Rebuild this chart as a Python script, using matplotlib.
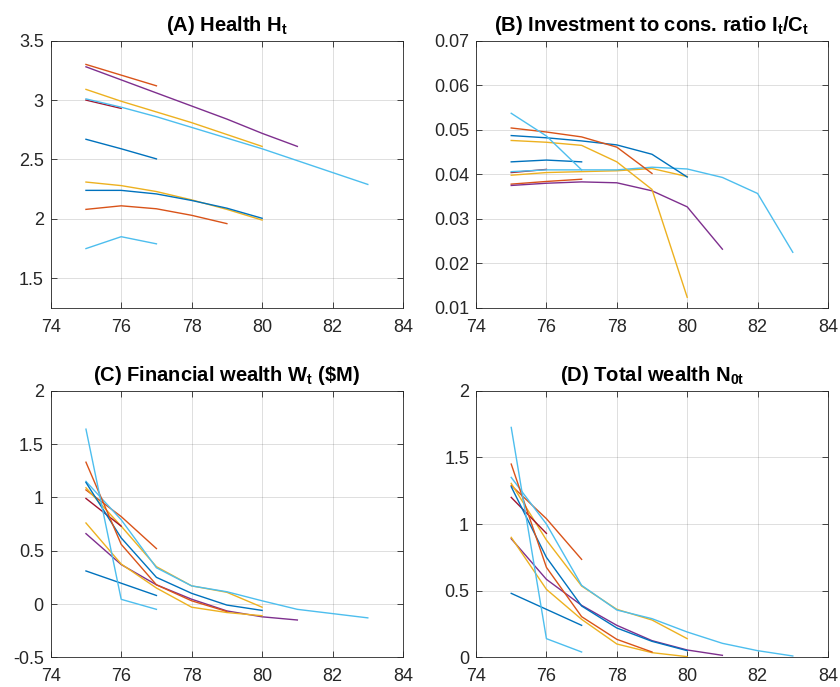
import numpy as np
import matplotlib
matplotlib.use("Agg")
import matplotlib.pyplot as plt
from matplotlib.ticker import FormatStrFormatter

plt.rcParams['font.family'] = ['Liberation Sans', 'DejaVu Sans']
plt.rcParams['mathtext.fontset'] = 'custom'
plt.rcParams['mathtext.rm'] = 'Liberation Sans'
plt.rcParams['mathtext.bf'] = 'Liberation Sans:bold'

# MATLAB colours for each simulated path
colores = ['#D95319', '#7E2F8E', '#EDB120', '#A2142F', '#4DBEEE',
           '#0072BD', '#EDB120', '#0072BD', '#D95319', '#4DBEEE']
# last age of each path (all start at 75)
edad_final = [77, 81, 80, 76, 83, 77, 80, 80, 79, 77]

salud = [
    [3.30, 3.21, 3.12],
    [3.28, 3.17, 3.06, 2.95, 2.84, 2.72, 2.61],
    [3.09, 2.99, 2.90, 2.81, 2.71, 2.61],
    [3.00, 2.93],
    [3.01, 2.94, 2.86, 2.77, 2.68, 2.59, 2.49, 2.39, 2.29],
    [2.67, 2.59, 2.505],
    [2.31, 2.28, 2.23, 2.16, 2.08, 1.99],
    [2.24, 2.24, 2.21, 2.155, 2.09, 2.005],
    [2.08, 2.11, 2.085, 2.03, 1.96],
    [1.75, 1.85, 1.79],
]

inversion = [
    [0.0378, 0.0384, 0.0389],
    [0.0375, 0.0380, 0.0383, 0.0381, 0.0363, 0.0327, 0.0232],
    [0.0398, 0.0404, 0.0406, 0.0408, 0.0413, 0.0395],
    [0.0404, 0.0411],
    [0.0406, 0.0410, 0.0410, 0.0410, 0.0416, 0.0412, 0.0393, 0.0357, 0.0225],
    [0.0428, 0.0432, 0.0428],
    [0.0476, 0.0472, 0.0465, 0.0428, 0.0366, 0.0124],
    [0.0487, 0.0482, 0.0475, 0.0466, 0.0445, 0.0394],
    [0.0504, 0.0495, 0.0484, 0.0461, 0.0402],
    [0.0537, 0.0486, 0.0410],
]

riqueza_fin = [
    [1.07, 0.82, 0.52],
    [0.66, 0.37, 0.18, 0.045, -0.065, -0.12, -0.15],
    [1.09, 0.73, 0.35, 0.17, 0.11, -0.03],
    [0.99, 0.73],
    [1.15, 0.79, 0.34, 0.17, 0.115, 0.03, -0.05, -0.09, -0.13],
    [0.31, 0.195, 0.08],
    [0.76, 0.375, 0.15, -0.03, -0.08, -0.11],
    [1.14, 0.62, 0.25, 0.10, -0.01, -0.06],
    [1.33, 0.56, 0.18, 0.03, -0.07],
    [1.64, 0.044, -0.05],
]

riqueza_total = [
    [1.29, 1.04, 0.735],
    [0.89, 0.585, 0.39, 0.24, 0.125, 0.055, 0.015],
    [1.305, 0.88, 0.535, 0.36, 0.28, 0.14],
    [1.20, 0.93],
    [1.35, 1.00, 0.54, 0.355, 0.29, 0.19, 0.105, 0.05, 0.01],
    [0.48, 0.36, 0.24],
    [0.90, 0.51, 0.285, 0.10, 0.035, 0.005],
    [1.28, 0.75, 0.385, 0.22, 0.12, 0.05],
    [1.45, 0.675, 0.305, 0.135, 0.04],
    [1.725, 0.14, 0.04],
]

titulos = [r'(A) Health H$_{\mathbf{t}}$',
           r'(B) Investment to cons. ratio I$_{\mathbf{t}}$/C$_{\mathbf{t}}$',
           r'(C) Financial wealth W$_{\mathbf{t}}$ (\$M)',
           r'(D) Total wealth N$_{\mathbf{0t}}$']
limites_y = [(1.25, 3.5), (0.01, 0.07), (-0.5, 2), (0, 2)]
ticks_y = [np.arange(1.5, 3.51, 0.5), np.arange(0.01, 0.071, 0.01),
           np.arange(-0.5, 2.01, 0.5), np.arange(0, 2.01, 0.5)]
formatos = ['%g', '%.2f', '%g', '%g']
posiciones = [[0.0604, 0.5517, 0.4194, 0.3891],
              [0.5667, 0.5517, 0.4190, 0.3891],
              [0.0604, 0.0432, 0.4194, 0.3880],
              [0.5667, 0.0432, 0.4190, 0.3880]]

fig = plt.figure(figsize=(8.40, 6.87), dpi=100)
paneles = [salud, inversion, riqueza_fin, riqueza_total]
for k, datos in enumerate(paneles):
    ax = fig.add_axes(posiciones[k])
    for i, serie in enumerate(datos):
        edades = np.arange(75, edad_final[i] + 1)
        ax.plot(edades, serie, color=colores[i], lw=1.0)
    ax.set_xlim(74, 84)
    ax.set_xticks(np.arange(74, 85, 2))
    ax.set_ylim(*limites_y[k])
    ax.set_yticks(ticks_y[k])
    ax.yaxis.set_major_formatter(FormatStrFormatter(formatos[k]))
    ax.grid(True, color='#262626', alpha=0.15, lw=0.7)
    ax.tick_params(direction='in', top=True, right=True, labelsize=13,
                   colors='#262626', length=4, width=0.6)
    ax.tick_params(axis='x', pad=8)
    ax.tick_params(axis='y', pad=5)
    for s in ax.spines.values():
        s.set_color('#262626')
        s.set_linewidth(0.6)
    ax.set_title(titulos[k], fontsize=14.5, fontweight='bold', pad=7)

fig.savefig('out.png', dpi=100)
